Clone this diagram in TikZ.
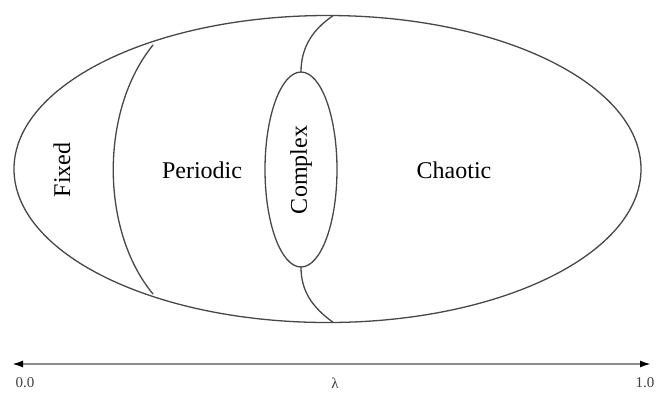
\documentclass[tikz,border=0pt]{standalone}
\usepackage{fontspec}
\setmainfont{Liberation Serif}
\usetikzlibrary{arrows.meta}
\begin{document}
\begin{tikzpicture}[x=1pt,y=-1pt, line join=round, line cap=round]
	\def\bigellipse{(327.5,169) ellipse (313.5 and 153.5)}
	\def\complexellipse{(301,169.5) ellipse (36 and 97.5)}
	\colorlet{region edge}{black!72}
	\colorlet{axis line}{black!45}
	\tikzset{outline/.style={draw=region edge, line width=1.3pt},
	regionlabel/.style={font=\fontsize{24}{28}\selectfont},
	axislabel/.style={font=\fontsize{15}{17}\selectfont, text=black!75, inner sep=1pt}}
	\useasboundingbox (0,0) rectangle (656,392);
	\draw[outline] \bigellipse;
	\draw[outline] \complexellipse;
	% borders between the regions
	\draw[outline] (153,45) .. controls (100,110) and (100,230) .. (153,294);
	\draw[outline] (333,15.7) .. controls (312,30) and (301,48) .. (301,72);
	\draw[outline] (301,267) .. controls (301,291) and (312,307) .. (333,322.3);
	%
	\node[regionlabel, rotate=90] (fixed) at (62,170) {Fixed};
	\node[regionlabel] (periodic) at (202,170) {Periodic};
	\node[regionlabel, rotate=90] (complex) at (301,170) {Complex};
	\node[regionlabel] (chaotic) at (454,170) {Chaotic};
	% lambda axis
	\coordinate (lambda start) at (12,364);
	\coordinate (lambda end) at (651,364);
	\draw[draw=axis line, line width=1.8pt, {Latex[length=11pt,width=7pt,color=black]}-{Latex[length=11pt,width=7pt,color=black]}]
	(lambda start) -- (lambda end);
	\node[axislabel] (zero) at (25,383) {0.0};
	\node[axislabel] (lambda) at (335,383) {λ};
	\node[axislabel] (one) at (645,383) {1.0};
\end{tikzpicture}
\end{document}
